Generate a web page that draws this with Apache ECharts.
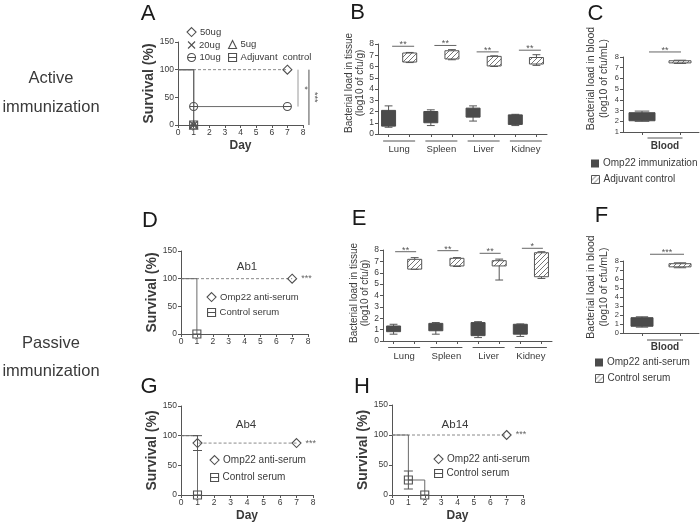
<!DOCTYPE html>
<html><head><meta charset="utf-8">
<script src="https://cdn.jsdelivr.net/npm/echarts@6/dist/echarts.min.js"></script>
<style>html,body{margin:0;padding:0;background:#fff}#c{width:700px;height:525px}</style>
</head><body><div id="c"></div>
<script>
// ---------------- data ----------------
const tissues = ['Lung', 'Spleen', 'Liver', 'Kidney'];
const bloodGroup = ['Blood'];
// survival (Kaplan-Meier) data: [day, survival %]
const aDose50 = [[0, 100], [7, 100]];
const aDose20 = [[0, 100], [1, 0]];
const aDose5 = [[0, 100], [1, 0]];
const aDose10 = [[0, 100], [1, 33.3], [7, 33.3]];
const aAdjuvant = [[0, 100], [1, 0]];
const aSig = [[7.68, 100, 33.3], [8.38, 100, 0]];
const aSigLabels = ['*', '***'];
const dOmp22 = [[0, 100], [7, 100]];
const dControl = [[0, 100], [1, 0]];
const gOmp22 = [[0, 100], [1, 87.5], [7, 87.5]];
const gControl = [[0, 100], [1, 0]];
const gOmp22Err = [[1, 75, 100]];
const hOmp22 = [[0, 100], [7, 100]];
const hControl = [[0, 100], [1, 25], [2, 0]];
const hControlErr = [[1, 10, 40]];
// bacterial load boxes: [min, q1, q3, max]
const bOmp22 = [[0.6, 0.7, 2.1, 2.5], [0.75, 1.0, 2.0, 2.15], [1.15, 1.5, 2.3, 2.5], [0.75, 0.85, 1.7, 1.75]];
const bAdjuvant = [[6.35, 6.4, 7.2, 7.25], [6.6, 6.67, 7.4, 7.5], [6.0, 6.05, 6.9, 6.95], [6.1, 6.22, 6.8, 7.05]];
const bSig = [7.8, 7.87, 7.3, 7.45];
const bSigLabels = ['**', '**', '**', '**'];
const cOmp22 = [2.0, 2.05, 2.8, 2.95];
const cAdjuvant = [7.4, 7.45, 7.65, 7.7];
const cSig = [8.47];
const cSigLabels = ['**'];
const eOmp22 = [[0.6, 0.82, 1.32, 1.47], [0.6, 0.9, 1.55, 1.62], [0.3, 0.47, 1.62, 1.7], [0.4, 0.6, 1.47, 1.5]];
const eControl = [[6.3, 6.32, 7.18, 7.33], [6.55, 6.6, 7.27, 7.33], [5.36, 6.6, 7.06, 7.2], [5.5, 5.65, 7.76, 7.85]];
const eSig = [7.85, 7.94, 7.71, 8.15];
const eSigLabels = ['**', '**', '**', '*'];
const fOmp22 = [0.65, 0.75, 1.7, 1.8];
const fControl = [7.25, 7.35, 7.7, 7.8];
const fSig = [8.75];
const fSigLabels = ['***'];

// ---------------- style ----------------
const FONT = "'Liberation Sans', Arial, sans-serif";
const TXT = '#3a3a3a', AX = '#555', DARK = '#4b4b4b', LINE = '#6a6a6a', DASH = '#8a8a8a';
function makeHatch() {
  const c = document.createElement('canvas'); c.width = 5; c.height = 5;
  const g = c.getContext('2d');
  g.fillStyle = '#fff'; g.fillRect(0, 0, 5, 5);
  g.strokeStyle = '#666'; g.lineWidth = 0.9; g.beginPath();
  g.moveTo(0, 5); g.lineTo(5, 0); g.moveTo(-1, 1); g.lineTo(1, -1); g.moveTo(4, 6); g.lineTo(6, 4);
  g.stroke(); return c;
}
const HATCH = { image: makeHatch(), repeat: 'repeat' };
const SYM = {
  diamond: 'diamond',
  cross: 'path://M0,0L10,10M10,0L0,10',
  triangle: 'triangle',
  circleMinus: 'path://M10,5A5,5,0,1,1,0,5A5,5,0,1,1,10,5ZM0,5L10,5',
  squareMinus: 'path://M0,0L10,0L10,10L0,10ZM0,5L10,5'
};

// ---------------- layout ----------------
const grids = [
  { left: 178, top: 42, width: 125, height: 83 },   // 0 A
  { left: 378, top: 44, width: 169, height: 90 },   // 1 B
  { left: 623, top: 57, width: 76, height: 75 },    // 2 C
  { left: 181, top: 251, width: 127, height: 83 },  // 3 D
  { left: 383, top: 250, width: 169, height: 91 },  // 4 E
  { left: 623, top: 261, width: 76, height: 72 },   // 5 F
  { left: 181, top: 406, width: 132, height: 89 },  // 6 G
  { left: 392, top: 405, width: 131, height: 90 }   // 7 H
].map(g => Object.assign({ outerBoundsMode: 'none', containLabel: false }, g));

function survX(gi, day) {
  return { type: 'value', gridIndex: gi, min: 0, max: 8, interval: 1,
    name: day ? 'Day' : '', nameLocation: 'middle', nameGap: 15,
    nameTextStyle: { fontWeight: 'bold', fontSize: 12, color: TXT, fontFamily: FONT },
    axisLine: { show: true, lineStyle: { color: AX } },
    axisTick: { show: true, length: 3, lineStyle: { color: AX } },
    axisLabel: { fontSize: 8.5, color: TXT, margin: 3, fontFamily: FONT },
    splitLine: { show: false } };
}
function survY(gi, gap) {
  return { type: 'value', gridIndex: gi, min: 0, max: 150, interval: 50,
    name: 'Survival (%)', nameLocation: 'middle', nameGap: gap,
    nameTextStyle: { fontWeight: 'bold', fontSize: 14, color: TXT, fontFamily: FONT },
    axisLine: { show: true, lineStyle: { color: AX } },
    axisTick: { show: true, length: 3, lineStyle: { color: AX } },
    axisLabel: { fontSize: 8.5, color: TXT, margin: 4, fontFamily: FONT },
    splitLine: { show: false } };
}
function boxX(gi, cats) {
  return { type: 'category', gridIndex: gi, data: cats, position: 'bottom',
    axisLine: { show: true, lineStyle: { color: AX } },
    axisTick: { show: true, alignWithLabel: true, interval: 0, length: 3, lineStyle: { color: AX } },
    axisLabel: { show: false }, splitLine: { show: false } };
}
function labelX(gi, cats, size, bold, margin, pad) {
  return { type: 'category', gridIndex: gi, data: cats, position: 'bottom',
    axisLine: { show: false }, axisTick: { show: false },
    axisLabel: { show: true, interval: 0, fontSize: size, fontWeight: bold ? 'bold' : 'normal', color: TXT, margin: margin, fontFamily: FONT, padding: pad || 0 },
    splitLine: { show: false } };
}
function loadY(gi, min, name, gap, size, lh, lift, labSize) {
  return { type: 'value', gridIndex: gi, min: min, max: 8, interval: 1,
    name: name, nameLocation: 'middle', nameGap: gap,
    nameTextStyle: { fontSize: size, lineHeight: lh, color: TXT, fontFamily: FONT, padding: [0, 0, 0, lift] },
    axisLine: { show: true, lineStyle: { color: AX } },
    axisTick: { show: true, length: 3, lineStyle: { color: AX } },
    axisLabel: { fontSize: labSize, color: TXT, margin: 4, fontFamily: FONT },
    splitLine: { show: false } };
}
const pairCats = [];
tissues.forEach(t => { pairCats.push(t + ' Omp22'); pairCats.push(t + ' control'); });

const xAxes = [
  survX(0, true),                                   // 0 A
  boxX(1, pairCats),                                // 1 B boxes
  labelX(1, tissues, 9.5, false, 10),               // 2 B labels
  boxX(2, ['Omp22', 'Adjuvant']),                   // 3 C boxes
  labelX(2, bloodGroup, 10, true, 9, [0, 0, 0, 8]), // 4 C labels
  survX(3, false),                                  // 5 D
  boxX(4, pairCats),                                // 6 E boxes
  labelX(4, tissues, 9.5, false, 10),               // 7 E labels
  boxX(5, ['Omp22', 'Control']),                    // 8 F boxes
  labelX(5, bloodGroup, 10, true, 9, [0, 0, 0, 8]), // 9 F labels
  survX(6, true),                                   // 10 G
  survX(7, true)                                    // 11 H
];
const yAxes = [
  survY(0, 19),
  loadY(1, 0, 'Bacterial load in tissue\n(log10 of cfu/g)', 11, 10, 10.5, 12, 8.5),
  loadY(2, 1, 'Bacterial load in blood\n(log10 of cfu/mL)', 4, 10.5, 13, 32, 7.5),
  survY(3, 21),
  loadY(4, 0, 'Bacterial load in tissue\n(log10 of cfu/g)', 13, 10, 10.5, 5, 8.5),
  loadY(5, 0, 'Bacterial load in blood\n(log10 of cfu/mL)', 5, 10.5, 13, 20, 7.5),
  survY(6, 21),
  survY(7, 22)
];

// ---------------- series helpers ----------------
function km(name, xi, yi, data, o) {
  return { type: 'line', name: name, xAxisIndex: xi, yAxisIndex: yi, step: 'end',
    data: data.map((d, i) => {
      const item = { value: d, symbol: i >= (o.markFrom || 1) ? o.symbol : 'none' };
      if (o.stars && i === data.length - 1) item.label = { show: true, formatter: o.stars, position: 'right', distance: 4, color: '#666', fontSize: 9, fontFamily: FONT };
      return item;
    }),
    symbol: o.symbol, symbolSize: o.size || 8, showSymbol: true, showAllSymbol: true,
    lineStyle: { color: o.dash ? DASH : LINE, width: 1, type: o.dash ? [3, 2] : 'solid' },
    itemStyle: { color: 'rgba(255,255,255,0)', borderColor: '#505050', borderWidth: 1.1 },
    z: o.z || 2, clip: false, silent: true, emphasis: { disabled: true } };
}
function boxRender(width, fill) {
  return function (params, api) {
    const x = api.value(0);
    const pLo = api.coord([x, api.value(1)]), pQ1 = api.coord([x, api.value(2)]);
    const pQ3 = api.coord([x, api.value(3)]), pHi = api.coord([x, api.value(4)]);
    const cx = pLo[0], hw = width / 2, cw = Math.max(3, width * 0.28);
    const st = { stroke: '#555', lineWidth: 1 };
    return { type: 'group', children: [
      { type: 'line', shape: { x1: cx, y1: pHi[1], x2: cx, y2: pLo[1] }, style: st },
      { type: 'line', shape: { x1: cx - cw, y1: pHi[1], x2: cx + cw, y2: pHi[1] }, style: st },
      { type: 'line', shape: { x1: cx - cw, y1: pLo[1], x2: cx + cw, y2: pLo[1] }, style: st },
      { type: 'rect', shape: { x: cx - hw, y: pQ3[1], width: width, height: pQ1[1] - pQ3[1] }, style: { fill: fill, stroke: fill === HATCH ? '#555' : DARK, lineWidth: 1 } }
    ] };
  };
}
function boxSeries(name, xi, yi, rows, pos, width, fill) {
  return { type: 'custom', name: name, xAxisIndex: xi, yAxisIndex: yi, clip: false, silent: true,
    itemStyle: { color: fill === HATCH ? '#bbb' : DARK },
    renderItem: boxRender(width, fill), encode: { x: 0, y: [1, 2, 3, 4] },
    data: rows.map((r, i) => [pos(i)].concat(r)) };
}
function groupLines(xi, yi, n, base, half, drop, shift) {
  const rows = []; for (let i = 0; i < n; i++) rows.push([i, base]);
  return { type: 'custom', xAxisIndex: xi, yAxisIndex: yi, clip: false, silent: true,
    renderItem: (params, api) => { const p = api.coord([api.value(0), api.value(1)]);
      return { type: 'line', shape: { x1: p[0] - half + shift, y1: p[1] + drop, x2: p[0] + half + shift, y2: p[1] + drop }, style: { stroke: AX, lineWidth: 1 } }; },
    encode: { x: 0, y: 1 }, data: rows };
}
function sigBars(xi, yi, levels, labels, l, r) {
  return { type: 'custom', xAxisIndex: xi, yAxisIndex: yi, clip: false, silent: true,
    renderItem: (params, api) => { const p = api.coord([api.value(0), api.value(1)]);
      return { type: 'group', children: [
        { type: 'line', shape: { x1: p[0] + l, y1: p[1], x2: p[0] + r, y2: p[1] }, style: { stroke: '#666', lineWidth: 1 } },
        { type: 'text', x: p[0] + (l + r) / 2, y: p[1] - 1.5, style: { text: labels[params.dataIndex], fill: '#555', fontSize: 9, fontFamily: FONT, align: 'center', verticalAlign: 'middle' } }
      ] }; },
    encode: { x: 0, y: 1 }, data: levels.map((v, i) => [i, v]) };
}
function errBars(xi, yi, rows) {
  return { type: 'custom', xAxisIndex: xi, yAxisIndex: yi, clip: false, silent: true, z: 3,
    renderItem: (params, api) => { const lo = api.coord([api.value(0), api.value(1)]), hi = api.coord([api.value(0), api.value(2)]);
      const st = { stroke: '#555', lineWidth: 1 }, w = 4.5;
      return { type: 'group', children: [
        { type: 'line', shape: { x1: lo[0], y1: lo[1], x2: hi[0], y2: hi[1] }, style: st },
        { type: 'line', shape: { x1: lo[0] - w, y1: lo[1], x2: lo[0] + w, y2: lo[1] }, style: st },
        { type: 'line', shape: { x1: hi[0] - w, y1: hi[1], x2: hi[0] + w, y2: hi[1] }, style: st }
      ] }; },
    encode: { x: 0, y: [1, 2] }, data: rows };
}
const aBrackets = { type: 'custom', xAxisIndex: 0, yAxisIndex: 0, clip: false, silent: true,
  renderItem: (params, api) => { const p1 = api.coord([api.value(0), api.value(1)]), p2 = api.coord([api.value(0), api.value(2)]);
    const col = params.dataIndex === 0 ? '#9a9a9a' : '#505050';
    return { type: 'group', children: [
      { type: 'line', shape: { x1: p1[0], y1: p1[1], x2: p2[0], y2: p2[1] }, style: { stroke: col, lineWidth: 1 } },
      { type: 'text', x: p1[0] + 6, y: (p1[1] + p2[1]) / 2, rotation: -Math.PI / 2, style: { text: aSigLabels[params.dataIndex], fill: '#555', fontSize: 9, fontFamily: FONT, align: 'center', verticalAlign: 'middle' } }
    ] }; },
  encode: { x: 0, y: [1, 2] }, data: aSig };

const series = [
  // A
  km('50ug', 0, 0, aDose50, { symbol: SYM.diamond, dash: true, size: 9, z: 1 }),
  km('20ug', 0, 0, aDose20, { symbol: SYM.cross, size: 7 }),
  km('5ug', 0, 0, aDose5, { symbol: SYM.triangle, size: 8 }),
  km('10ug', 0, 0, aDose10, { symbol: SYM.circleMinus, size: 8 }),
  km('Adjuvant  control', 0, 0, aAdjuvant, { symbol: SYM.squareMinus, size: 8 }),
  aBrackets,
  // B
  boxSeries('Omp22 immunization', 1, 1, bOmp22, i => 2 * i, 14, DARK),
  boxSeries('Adjuvant control', 1, 1, bAdjuvant, i => 2 * i + 1, 14, HATCH),
  groupLines(2, 1, 4, 0, 16, 7, 0),
  sigBars(2, 1, bSig, bSigLabels, -7, 15),
  // C
  boxSeries('Omp22 immunization', 3, 2, [cOmp22], i => 0, 26, DARK),
  boxSeries('Adjuvant control', 3, 2, [cAdjuvant], i => 1, 22, HATCH),
  groupLines(4, 2, 1, 1, 17.5, 6, 4),
  sigBars(4, 2, cSig, cSigLabels, -12, 20),
  // D
  km('Omp22 anti-serum', 5, 3, dOmp22, { symbol: SYM.diamond, dash: true, size: 9, z: 1, stars: '***' }),
  km('Control serum', 5, 3, dControl, { symbol: SYM.squareMinus, size: 8 }),
  // E
  boxSeries('Omp22 anti-serum', 6, 4, eOmp22, i => 2 * i, 14, DARK),
  boxSeries('Control serum', 6, 4, eControl, i => 2 * i + 1, 14, HATCH),
  groupLines(7, 4, 4, 0, 16, 6.5, 0),
  sigBars(7, 4, eSig, eSigLabels, -9, 12),
  // F
  boxSeries('Omp22 anti-serum', 8, 5, [fOmp22], i => 0, 22, DARK),
  boxSeries('Control serum', 8, 5, [fControl], i => 1, 22, HATCH),
  groupLines(9, 5, 1, 0, 18, 7, 4),
  sigBars(9, 5, fSig, fSigLabels, -11, 23),
  // G
  km('Omp22 anti-serum', 10, 6, gOmp22, { symbol: SYM.diamond, dash: true, size: 9, z: 1, stars: '***' }),
  km('Control serum', 10, 6, gControl, { symbol: SYM.squareMinus, size: 8 }),
  errBars(10, 6, gOmp22Err),
  // H
  km('Omp22 anti-serum', 11, 7, hOmp22, { symbol: SYM.diamond, dash: true, size: 9, z: 1, stars: '***' }),
  km('Control serum', 11, 7, hControl, { symbol: SYM.squareMinus, size: 8 }),
  errBars(11, 7, hControlErr)
];

// ---------------- legends ----------------
function leg(name, icon, cx, cy, size, fontSize, style) {
  return { data: [{ name: name, icon: icon }], left: cx - size / 2, top: cy - size / 2 - 0.5, orient: 'horizontal',
    padding: 0, itemWidth: size, itemHeight: size, itemGap: 0, selectedMode: false,
    textStyle: { fontSize: fontSize, color: TXT, fontFamily: FONT, padding: [0, 0, 0, -1] },
    itemStyle: style };
}
const hollow = { color: 'rgba(255,255,255,0)', borderColor: '#505050', borderWidth: 1.1 };
const darkSt = { color: DARK, borderColor: DARK, borderWidth: 0 };
const hatchSt = { color: HATCH, borderColor: '#555', borderWidth: 1 };
const legends = [
  leg('50ug', SYM.diamond, 191, 32, 9, 9.5, hollow),
  leg('20ug', SYM.cross, 191, 44, 7, 9.5, hollow),
  leg('5ug', SYM.triangle, 232, 44, 8, 9.5, hollow),
  leg('10ug', SYM.circleMinus, 191, 57, 8, 9.5, hollow),
  leg('Adjuvant  control', SYM.squareMinus, 232, 57, 8, 9.5, hollow),
  leg('Omp22 immunization', 'rect', 595, 163, 8, 10, darkSt),
  leg('Adjuvant control', 'rect', 595, 179, 8, 10, hatchSt),
  leg('Omp22 anti-serum', SYM.diamond, 211, 297, 9, 9.5, hollow),
  leg('Control serum', SYM.squareMinus, 211, 312, 8, 9.5, hollow),
  leg('Omp22 anti-serum', 'rect', 599, 362, 8, 10, darkSt),
  leg('Control serum', 'rect', 599, 378, 8, 10, hatchSt),
  leg('Omp22 anti-serum', SYM.diamond, 214, 460, 9, 10, hollow),
  leg('Control serum', SYM.squareMinus, 214, 477, 8, 10, hollow),
  leg('Omp22 anti-serum', SYM.diamond, 438, 459, 9, 10, hollow),
  leg('Control serum', SYM.squareMinus, 438, 473, 8, 10, hollow)
];

// ---------------- free text ----------------
function txt(s, x, y, size, extra) {
  return Object.assign({ type: 'text', x: x, y: y, silent: true,
    style: { text: s, fontSize: size, fontFamily: FONT, fill: TXT, align: 'center', verticalAlign: 'middle' } }, extra || {});
}
const letters = [['A', 148, 13.5], ['B', 357.5, 13], ['C', 595.5, 14], ['D', 150, 220.5], ['E', 359, 219], ['F', 601.5, 216], ['G', 149, 387], ['H', 362, 387]];
const graphic = letters.map(l => { const t = txt(l[0], l[1], l[2], 22); t.style.fill = '#1a1a1a'; return t; })
  .concat([
    txt('Active', 51, 78, 16.5), txt('immunization', 51, 107, 16.5),
    txt('Passive', 51, 343, 16.5), txt('immunization', 51, 371, 16.5),
    txt('Ab1', 247, 267, 11.5), txt('Ab4', 246, 425, 11.5), txt('Ab14', 455, 425, 11.5)
  ]);

const chart = echarts.init(document.getElementById('c'), null, { renderer: 'canvas' });
chart.setOption({
  animation: false, backgroundColor: '#fff',
  textStyle: { fontFamily: FONT },
  grid: grids, xAxis: xAxes, yAxis: yAxes, series: series, legend: legends,
  graphic: { elements: graphic }
});
</script></body></html>
